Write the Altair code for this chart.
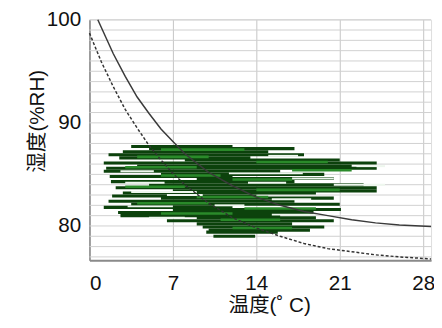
import altair as alt
import pandas as pd

# curves
solid_x = [0.7, 2, 3, 4, 5, 6, 7, 8, 9, 10, 12, 14, 16, 18, 20, 22, 24, 26, 28.66]
solid_y = [100.0, 96.7, 94.5, 92.5, 90.9, 89.4, 88.2, 87.0, 86.1, 85.2, 83.9, 82.8, 82.0, 81.4, 81.0, 80.6, 80.3, 80.1, 79.95]
dash_x = [0, 1, 2, 3, 4, 5, 6, 7, 8, 10, 12, 14, 16, 18, 20, 22, 24, 26, 28.66]
dash_y = [98.7, 95.9, 93.5, 91.3, 89.5, 87.8, 86.4, 85.1, 84.0, 82.2, 80.8, 79.8, 79.0, 78.3, 77.8, 77.5, 77.2, 77.0, 76.8]

# green scatter strokes: y, x start, x end, tone (d dark, m mid, l light)
dark_y = [87.7, 87.5, 87.2, 86.9, 86.6, 86.4, 86.1, 85.8, 85.6, 85.3, 85.0, 84.8, 84.6, 84.3, 84.0, 83.7, 83.4,
          83.2, 82.9, 82.7, 82.4, 82.1, 81.8, 81.6, 81.3, 81.0, 80.8, 80.5, 80.2, 79.9, 79.6, 79.4, 79.0]
dark_x0 = [3.5, 5.0, 2.8, 1.6, 2.5, 8.0, 1.2, 4.0, 1.4, 1.2, 6.0, 1.7, 9.0, 1.8, 5.0, 2.2, 7.0,
           2.8, 1.9, 6.0, 1.6, 3.5, 1.2, 7.0, 2.4, 2.6, 9.0, 6.5, 9.0, 9.5, 10.0, 9.8, 10.4]
dark_x1 = [12.0, 17.2, 15.0, 18.0, 13.5, 21.0, 24.1, 22.0, 24.1, 16.0, 19.7, 12.0, 20.5, 17.2, 23.0, 24.1, 24.1,
           19.0, 14.0, 20.5, 17.2, 21.0, 12.0, 21.1, 18.8, 16.0, 19.0, 20.5, 17.0, 19.7, 18.5, 15.8, 13.9]
mid_y = [87.4, 86.7, 86.2, 85.7, 85.4, 84.9, 84.5, 83.8, 83.5, 82.8, 82.2, 81.7, 81.2, 80.6, 79.8]
mid_x0 = [6.0, 4.0, 14.0, 3.0, 17.0, 6.0, 12.0, 3.0, 14.0, 9.0, 4.0, 13.0, 6.0, 11.0, 12.0]
mid_x1 = [13.0, 10.0, 20.0, 9.0, 22.0, 11.0, 17.0, 8.0, 21.0, 15.0, 10.0, 19.0, 12.0, 16.0, 17.0]
light_y = [85.1, 84.2, 81.1, 85.3, 84.2, 83.3, 81.9, 80.8, 85.8, 84.6, 84.0, 82.6, 82.0, 86.8, 83.0]
light_x0 = [11.7, 13.3, 15.3, 2.6, 3.0, 3.5, 3.2, 5.0, 22.4, 17.0, 20.5, 15.3, 10.5, 15.0, 6.5]
light_x1 = [17.9, 16.5, 19.0, 5.4, 6.3, 9.0, 7.0, 8.0, 24.8, 20.5, 24.8, 18.6, 13.0, 17.5, 9.5]

x_ticks = [0, 7, 14, 21, 28]
y_ticks = [80, 90, 100]
y_grid = list(range(77, 101))

curves_solid = pd.DataFrame({"x": solid_x, "y": solid_y})
curves_dash = pd.DataFrame({"x": dash_x, "y": dash_y})
segs = pd.concat([
    pd.DataFrame({"y": dark_y, "x0": dark_x0, "x1": dark_x1, "tone": "d"}),
    pd.DataFrame({"y": mid_y, "x0": mid_x0, "x1": mid_x1, "tone": "m"}),
    pd.DataFrame({"y": light_y, "x0": light_x0, "x1": light_x1, "tone": "l"}),
])
grid = pd.DataFrame({"y": y_grid})

FONT = "Liberation Sans, Noto Sans CJK SC, sans-serif"
xs = alt.Scale(domain=[0, 28.66], nice=False, zero=False)
ys = alt.Scale(domain=[76.68, 100.0], nice=False, zero=False)

grid_layer = alt.Chart(grid).mark_rule(color="#d0d0d0", strokeWidth=1).encode(
    y=alt.Y("y:Q", scale=ys, axis=alt.Axis(
        values=y_ticks, title="湿度(%RH)", grid=False,
        ticks=False, domainColor="#8a8a8a", domainWidth=1.5, labelFont=FONT, labelFontSize=21,
        labelColor="#111", labelPadding=9, titleFont=FONT, titleFontSize=21, titleFontWeight="normal",
        titleColor="#111", titleX=-53, titleY=103, titleBaseline="middle")),
)

seg_layer = alt.Chart(segs).mark_rule().encode(
    x=alt.X("x0:Q", scale=xs, axis=alt.Axis(
        values=x_ticks, title="温度(˚ C)", grid=True, gridColor="#c4c4c4", gridWidth=1,
        ticks=False, domainColor="#8a8a8a", domainWidth=2, labelFont=FONT, labelFontSize=21,
        labelColor="#111", labelPadding=13, titleFont=FONT, titleFontSize=21, titleFontWeight="normal",
        titleColor="#111", titleX=183, titleY=46, titleBaseline="middle")),
    x2="x1:Q",
    y=alt.Y("y:Q", scale=ys),
    color=alt.Color("tone:N", scale=alt.Scale(domain=["d", "m", "l"], range=["#0c420c", "#2a8a2a", "#eef7ee"]), legend=None),
    strokeWidth=alt.StrokeWidth("tone:N", scale=alt.Scale(domain=["d", "m", "l"], range=[3.2, 2.0, 1.3]), legend=None),
)

solid_layer = alt.Chart(curves_solid).mark_line(color="#3a3a3a", strokeWidth=1.5).encode(
    x=alt.X("x:Q", scale=xs), y=alt.Y("y:Q", scale=ys))
dash_layer = alt.Chart(curves_dash).mark_line(color="#333333", strokeWidth=1.5, strokeDash=[3, 2]).encode(
    x=alt.X("x:Q", scale=xs), y=alt.Y("y:Q", scale=ys))

chart = alt.layer(grid_layer, seg_layer, solid_layer, dash_layer).properties(
    width=348, height=245, autosize="none",
    padding={"left": 83, "top": 9, "right": 3, "bottom": 58},
).configure_view(stroke=None).configure(background="white")

chart.save("out.html", embed_options={"renderer": "svg", "actions": False})
